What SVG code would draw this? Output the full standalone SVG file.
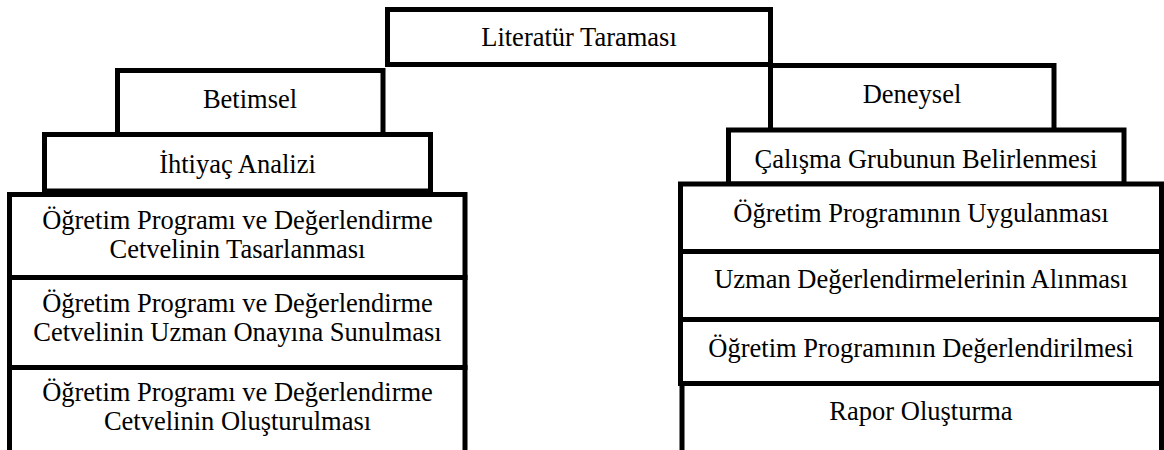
<svg xmlns="http://www.w3.org/2000/svg" width="1164" height="450" viewBox="0 0 1164 450">
<style>
.box{fill:#fff;stroke:#000;stroke-width:5}
.t{font-family:"Liberation Serif","Times New Roman",serif;font-size:26.5px;fill:#000;text-anchor:middle}
</style>
<rect width="1164" height="450" fill="#fff"/>
<g id="connectors"/>
<g id="nodes">
<g id="n-literatur"><rect class="box" x="387.5" y="9.5" width="383" height="55"/><text class="t" x="579" y="46">Literatür Taraması</text></g>
<g id="n-betimsel"><rect class="box" x="117.5" y="70.5" width="265.5" height="64"/><text class="t" x="250" y="108">Betimsel</text></g>
<g id="n-deneysel"><rect class="box" x="770.5" y="65.5" width="283.5" height="65"/><text class="t" x="912" y="103">Deneysel</text></g>
<g id="n-ihtiyac"><rect class="box" x="44.5" y="134.5" width="386" height="56.5"/><text class="t" x="237.5" y="173">İhtiyaç Analizi</text></g>
<g id="n-calisma"><rect class="box" x="728.5" y="130" width="395.5" height="54"/><text class="t" x="926" y="168">Çalışma Grubunun Belirlenmesi</text></g>
<g id="n-tasarlanma"><rect class="box" x="9.5" y="194.5" width="455.5" height="83"/><text class="t" x="237.5" y="229">Öğretim Programı ve Değerlendirme</text><text class="t" x="237.5" y="258">Cetvelinin Tasarlanması</text></g>
<g id="n-onay"><rect class="box" x="9.5" y="277.5" width="455.5" height="90"/><text class="t" x="237.5" y="312">Öğretim Programı ve Değerlendirme</text><text class="t" x="237.5" y="341">Cetvelinin Uzman Onayına Sunulması</text></g>
<g id="n-olusturulma"><rect class="box" x="9.5" y="367.5" width="455.5" height="95"/><text class="t" x="237.5" y="401">Öğretim Programı ve Değerlendirme</text><text class="t" x="237.5" y="430">Cetvelinin Oluşturulması</text></g>
<g id="n-uygulanma"><rect class="box" x="680.5" y="184" width="481" height="67.5"/><text class="t" x="921" y="222">Öğretim Programının Uygulanması</text></g>
<g id="n-uzman"><rect class="box" x="680.5" y="251.5" width="481" height="68"/><text class="t" x="921" y="288">Uzman Değerlendirmelerinin Alınması</text></g>
<g id="n-degerlendirme"><rect class="box" x="680.5" y="319.5" width="481" height="64"/><text class="t" x="921" y="357">Öğretim Programının Değerlendirilmesi</text></g>
<g id="n-rapor"><rect class="box" x="682" y="383.5" width="479.5" height="80"/><text class="t" x="921" y="420">Rapor Oluşturma</text></g>
</g>
</svg>
